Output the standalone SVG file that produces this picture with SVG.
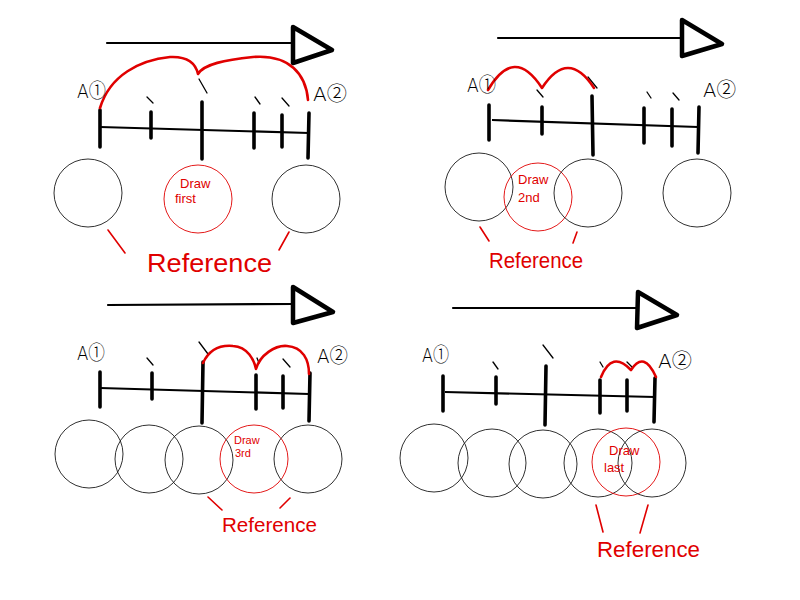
<svg xmlns="http://www.w3.org/2000/svg" width="800" height="600" viewBox="0 0 800 600">
<style>
.bg{fill:#fff}
.arrow{stroke:#000;stroke-width:2.2;fill:none;stroke-linecap:round}
.head{stroke:#000;stroke-width:4.5;fill:none;stroke-linejoin:round;stroke-linecap:round}
.axis{stroke:#000;stroke-width:2.2;fill:none}
.tick{stroke:#000;stroke-width:3.6;stroke-linecap:round}
.slash{stroke:#000;stroke-width:1.3;stroke-linecap:round}
.arc{stroke:#e00000;stroke-width:2.6;fill:none;stroke-linecap:round;stroke-linejoin:round}
.circ{stroke:#1a1a1a;stroke-width:0.9;fill:none}
.rcirc{stroke:#e00000;stroke-width:0.9;fill:none}
.rslash{stroke:#e00000;stroke-width:1.6;stroke-linecap:round}
.lbl{font-family:"DejaVu Sans","Noto Sans CJK JP",sans-serif;font-size:20px;fill:#000;font-weight:300}
.rtxt{font-family:"Liberation Sans","DejaVu Sans",sans-serif;fill:#e00000}
.small{font-size:13px}
.ref{font-size:26px}
</style>
<rect class="bg" x="0" y="0" width="800" height="600"/>

<!-- Panel 1 -->
<g id="panel1">
  <g id="p1-arrow">
    <line class="arrow" x1="107" y1="43" x2="293" y2="43"/>
    <polygon class="head" points="293,27 332,50 293,63"/>
  </g>
  <g id="p1-axis">
    <line class="axis" x1="100" y1="127" x2="309" y2="133"/>
    <line class="tick" x1="100" y1="110" x2="100" y2="147"/>
    <line class="tick" x1="151" y1="112" x2="151" y2="138"/>
    <line class="tick" x1="202" y1="102" x2="202" y2="159"/>
    <line class="tick" x1="254" y1="113" x2="254" y2="148"/>
    <line class="tick" x1="282" y1="115" x2="282" y2="147"/>
    <line class="tick" x1="309" y1="113" x2="308" y2="158"/>
    <line class="slash" x1="147" y1="97" x2="153" y2="103"/>
    <line class="slash" x1="199" y1="79" x2="207" y2="93"/>
    <line class="slash" x1="255" y1="97" x2="260" y2="104"/>
    <line class="slash" x1="282" y1="98" x2="289" y2="106"/>
    <path class="arc" d="M100,108 C110,75 140,60 170,57 C190,56 196,65 198,74 C204,64 225,60 253,57 C290,54 306,75 308,100"/>
    <text class="lbl" x="77" y="98" textLength="29" lengthAdjust="spacingAndGlyphs">A①</text>
    <text class="lbl" x="313" y="101" textLength="34" lengthAdjust="spacingAndGlyphs">A②</text>
  </g>
  <g id="p1-circles">
    <circle class="circ" cx="88" cy="193" r="34"/>
    <circle class="rcirc" cx="198" cy="199" r="34"/>
    <circle class="circ" cx="306" cy="199" r="34"/>
    <text class="rtxt small" x="180" y="188">Draw</text>
    <text class="rtxt small" x="175" y="203">first</text>
  </g>
  <g id="p1-ref">
    <line class="rslash" x1="108" y1="230" x2="125" y2="253"/>
    <line class="rslash" x1="289" y1="232" x2="279" y2="250"/>
    <text class="rtxt ref" x="147" y="272" textLength="125" lengthAdjust="spacingAndGlyphs">Reference</text>
  </g>
</g>

<!-- Panel 2 -->
<g id="panel2">
  <g id="p2-arrow">
    <line class="arrow" x1="498" y1="38" x2="682" y2="38"/>
    <polygon class="head" points="682,20 722,44 682,56"/>
  </g>
  <g id="p2-axis">
    <line class="axis" x1="492" y1="120" x2="698" y2="127"/>
    <line class="tick" x1="489" y1="105" x2="489" y2="140"/>
    <line class="tick" x1="542" y1="107" x2="542" y2="134"/>
    <line class="tick" x1="592" y1="96" x2="593" y2="155"/>
    <line class="tick" x1="644" y1="108" x2="644" y2="143"/>
    <line class="tick" x1="672" y1="109" x2="672" y2="146"/>
    <line class="tick" x1="699" y1="107" x2="698" y2="153"/>
    <line class="slash" x1="537" y1="90" x2="543" y2="97"/>
    <line class="slash" x1="588" y1="77" x2="597" y2="88"/>
    <line class="slash" x1="647" y1="92" x2="651" y2="98"/>
    <line class="slash" x1="673" y1="93" x2="679" y2="100"/>
    <path class="arc" d="M488,90 Q514,45 542,88 Q568,48 594,88"/>
    <text class="lbl" x="467" y="92" textLength="29" lengthAdjust="spacingAndGlyphs">A①</text>
    <text class="lbl" x="703" y="97" textLength="33" lengthAdjust="spacingAndGlyphs">A②</text>
  </g>
  <g id="p2-circles">
    <circle class="circ" cx="479" cy="187" r="34"/>
    <circle class="rcirc" cx="538" cy="197" r="34"/>
    <circle class="circ" cx="588" cy="193" r="34"/>
    <circle class="circ" cx="697" cy="193" r="34"/>
    <text class="rtxt small" x="518" y="184">Draw</text>
    <text class="rtxt small" x="518" y="202">2nd</text>
  </g>
  <g id="p2-ref">
    <line class="rslash" x1="480" y1="227" x2="489" y2="241"/>
    <line class="rslash" x1="577" y1="232" x2="573" y2="243"/>
    <text class="rtxt" font-size="22" x="489" y="268" textLength="94" lengthAdjust="spacingAndGlyphs">Reference</text>
  </g>
</g>

<!-- Panel 3 -->
<g id="panel3">
  <g id="p3-arrow">
    <line class="arrow" x1="108" y1="305" x2="293" y2="304"/>
    <polygon class="head" points="293,287 333,312 293,323"/>
  </g>
  <g id="p3-axis">
    <line class="axis" x1="100" y1="388" x2="309" y2="394"/>
    <line class="tick" x1="100" y1="372" x2="100" y2="407"/>
    <line class="tick" x1="152" y1="373" x2="152" y2="399"/>
    <line class="tick" x1="203" y1="362" x2="202" y2="423"/>
    <line class="tick" x1="256" y1="375" x2="256" y2="409"/>
    <line class="tick" x1="283" y1="376" x2="283" y2="408"/>
    <line class="tick" x1="310" y1="373" x2="309" y2="421"/>
    <line class="slash" x1="147" y1="358" x2="153" y2="365"/>
    <line class="slash" x1="199" y1="342" x2="208" y2="354"/>
    <line class="slash" x1="257" y1="358" x2="259" y2="363"/>
    <line class="slash" x1="283" y1="359" x2="290" y2="367"/>
    <path class="arc" d="M203,363 C210,348 222,345 233,346 C248,347 254,360 256,369 C260,355 275,345 287,346 C303,347 309,360 309,374"/>
    <text class="lbl" x="77" y="360" textLength="28" lengthAdjust="spacingAndGlyphs">A①</text>
    <text class="lbl" x="317" y="363" textLength="31" lengthAdjust="spacingAndGlyphs">A②</text>
  </g>
  <g id="p3-circles">
    <circle class="circ" cx="89" cy="454" r="34"/>
    <circle class="circ" cx="149" cy="459" r="34"/>
    <circle class="circ" cx="199" cy="460" r="34"/>
    <circle class="rcirc" cx="254" cy="459" r="34"/>
    <circle class="circ" cx="308" cy="459" r="34"/>
    <text class="rtxt" font-size="11" x="234" y="444">Draw</text>
    <text class="rtxt" font-size="11" x="235" y="457">3rd</text>
  </g>
  <g id="p3-ref">
    <line class="rslash" x1="208" y1="497" x2="222" y2="510"/>
    <line class="rslash" x1="290" y1="498" x2="280" y2="508"/>
    <text class="rtxt" font-size="21" x="222" y="532" textLength="95" lengthAdjust="spacingAndGlyphs">Reference</text>
  </g>
</g>

<!-- Panel 4 -->
<g id="panel4">
  <g id="p4-arrow">
    <line class="arrow" x1="453" y1="308" x2="638" y2="308"/>
    <polygon class="head" points="638,292 677,315 637,328"/>
  </g>
  <g id="p4-axis">
    <line class="axis" x1="445" y1="392" x2="655" y2="397"/>
    <line class="tick" x1="443" y1="376" x2="443" y2="411"/>
    <line class="tick" x1="496" y1="377" x2="496" y2="404"/>
    <line class="tick" x1="546" y1="366" x2="545" y2="425"/>
    <line class="tick" x1="600" y1="380" x2="600" y2="413"/>
    <line class="tick" x1="627" y1="380" x2="627" y2="411"/>
    <line class="tick" x1="655" y1="378" x2="654" y2="422"/>
    <line class="slash" x1="493" y1="362" x2="498" y2="369"/>
    <line class="slash" x1="543" y1="345" x2="553" y2="358"/>
    <line class="slash" x1="600" y1="362" x2="603" y2="367"/>
    <line class="slash" x1="627" y1="362" x2="632" y2="367"/>
    <path class="arc" d="M601,377 Q612,350 631,370 Q644,350 656,377"/>
    <text class="lbl" x="422" y="362" textLength="27" lengthAdjust="spacingAndGlyphs">A①</text>
    <text class="lbl" x="658" y="368" textLength="34" lengthAdjust="spacingAndGlyphs">A②</text>
  </g>
  <g id="p4-circles">
    <circle class="circ" cx="434" cy="458" r="34"/>
    <circle class="circ" cx="492" cy="463" r="34"/>
    <circle class="circ" cx="543" cy="464" r="34"/>
    <circle class="circ" cx="598" cy="463" r="34"/>
    <circle class="rcirc" cx="626" cy="462" r="34"/>
    <circle class="circ" cx="652" cy="463" r="34"/>
    <text class="rtxt small" x="609" y="455">Draw</text>
    <text class="rtxt small" x="604" y="472">last</text>
  </g>
  <g id="p4-ref">
    <line class="rslash" x1="596" y1="505" x2="603" y2="532"/>
    <line class="rslash" x1="648" y1="505" x2="640" y2="533"/>
    <text class="rtxt" font-size="22" x="597" y="557" textLength="103" lengthAdjust="spacingAndGlyphs">Reference</text>
  </g>
</g>
</svg>
